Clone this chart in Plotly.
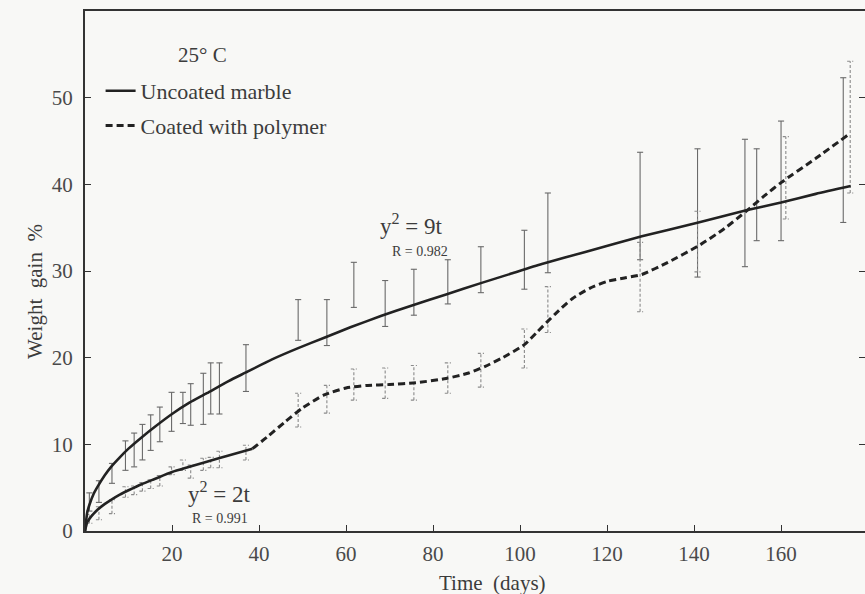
import plotly.graph_objects as go

# ---- fitted curves --------------------------------------------------------
# uncoated marble, fit y^2 = 9t
unc_t = [0, 0.5, 1, 2, 3, 4.5, 6, 8, 10, 13, 16, 20, 24, 28, 33, 37, 43, 49, 55, 61, 68, 75,
         83, 91, 98, 105, 115, 128, 141, 152, 160, 168, 176]
unc_w = [0, 2.1, 3.0, 4.3, 5.2, 6.4, 7.4, 8.5, 9.5, 10.8, 12.0, 13.5, 14.8, 15.9, 17.3, 18.3, 19.8,
         21.1, 22.3, 23.5, 24.8, 26.0, 27.3, 28.6, 29.7, 30.8, 32.2, 34.0, 35.6, 37.0, 37.9, 38.9, 39.8]

# coated marble, early fit y^2 = 2t
fit2_t = [0, 0.5, 1, 2, 3, 4.5, 6, 8, 10, 13, 16, 20, 24, 28, 33, 38.5]
fit2_w = [0, 1.0, 1.4, 2.0, 2.5, 3.1, 3.6, 4.2, 4.7, 5.4, 6.0, 6.8, 7.4, 8.0, 8.7, 9.5]

# coated marble, later trend
coat_t = [38.5, 42, 46, 50, 55, 60, 65, 70, 76, 83, 88, 92, 96, 101, 104, 108, 112, 116, 120,
          124, 128, 134, 141, 147, 152, 156, 160, 168, 175.4]
coat_w = [9.5, 10.9, 12.6, 14.2, 15.7, 16.5, 16.8, 16.9, 17.1, 17.6, 18.2, 19.0, 20.0, 21.5, 23.0,
          25.0, 26.8, 28.0, 28.8, 29.2, 29.6, 31.0, 32.9, 34.9, 36.9, 38.6, 40.2, 43.0, 45.7]

# ---- measured ranges (error bars) -----------------------------------------
unc_err_t = [1.0, 3.2, 6.2, 9.3, 11.3, 13.2, 15.1, 17.2, 19.9, 22.5, 24.3, 27.2, 28.9, 30.9, 37.0,
             49.0, 55.6, 61.8, 69.0, 75.6, 83.4, 91.0, 101.0, 106.4, 127.6, 140.8, 151.7, 154.4,
             160.0, 174.3]
unc_err_lo = [2.3, 3.3, 5.5, 7.0, 7.4, 8.2, 9.3, 10.3, 11.5, 12.4, 12.2, 12.3, 13.5, 13.5, 16.1,
              22.0, 21.4, 25.8, 23.6, 24.9, 26.2, 27.5, 27.9, 29.8, 31.3, 29.3, 30.5, 33.5,
              33.5, 35.6]
unc_err_hi = [4.4, 5.8, 7.8, 10.4, 11.3, 12.3, 13.4, 14.3, 16.0, 16.0, 17.0, 18.2, 19.4, 19.4, 21.5,
              26.7, 26.7, 31.0, 28.9, 30.2, 31.3, 32.8, 34.7, 39.0, 43.7, 44.1, 45.2, 44.1,
              47.3, 52.3]

coat_err_t = [1.0, 3.2, 6.2, 9.3, 11.3, 13.2, 15.1, 17.2, 19.9, 22.5, 24.3, 27.2, 28.9, 30.9, 37.0,
              49.0, 55.6, 61.8, 69.0, 75.6, 83.4, 91.0, 101.0, 106.4, 127.6, 140.8, 161.1, 175.9]
coat_err_lo = [0.9, 1.3, 2.0, 3.9, 4.2, 4.6, 4.9, 5.2, 6.5, 7.0, 6.1, 7.0, 7.3, 7.3, 8.2,
               12.0, 13.6, 15.1, 15.3, 15.1, 15.9, 16.6, 18.8, 22.9, 25.3, 29.9, 36.0, 39.0]
coat_err_hi = [1.9, 2.8, 3.6, 5.1, 5.2, 5.6, 5.9, 6.4, 7.4, 8.2, 7.6, 8.4, 8.5, 9.2, 9.9,
               15.9, 16.8, 18.7, 18.8, 19.1, 19.4, 20.5, 23.3, 28.2, 33.3, 36.9, 45.5, 54.2]

x_ticks = [20, 40, 60, 80, 100, 120, 140, 160]
y_ticks = [0, 10, 20, 30, 40, 50]

SERIF = "Liberation Serif, Times New Roman, serif"
TXT = "#3c3c3c"
CAP = 0.7  # half-width of the error-bar caps, in days
SP = "\u00a0"


def bar_segments(ts, los, his):
    """Vertical ranges with small caps, as one broken polyline."""
    xs, ys = [], []
    for t, lo, hi in zip(ts, los, his):
        xs += [t, t, None, t - CAP, t + CAP, None, t - CAP, t + CAP, None]
        ys += [lo, hi, None, lo, lo, None, hi, hi, None]
    return xs, ys


fig = go.Figure()

ux, uy = bar_segments(unc_err_t, unc_err_lo, unc_err_hi)
fig.add_trace(go.Scatter(x=ux, y=uy, mode="lines", hoverinfo="skip", showlegend=False,
                         line=dict(color="#6a6a6a", width=1.1)))

cx, cy = bar_segments(coat_err_t, coat_err_lo, coat_err_hi)
fig.add_trace(go.Scatter(x=cx, y=cy, mode="lines", hoverinfo="skip", showlegend=False,
                         line=dict(color="#8a8a8a", width=1.1, dash="3px,2px")))

curve = dict(shape="spline", smoothing=0.6)
fig.add_trace(go.Scatter(x=unc_t, y=unc_w, mode="lines", name="Uncoated marble",
                         legendgroup="a", line=dict(color="#222222", width=2.6, **curve)))
fig.add_trace(go.Scatter(x=fit2_t, y=fit2_w, mode="lines", showlegend=False,
                         line=dict(color="#222222", width=2.6, **curve)))
fig.add_trace(go.Scatter(x=coat_t, y=coat_w, mode="lines", name="Coated with polymer",
                         legendgroup="b",
                         line=dict(color="#222222", width=3, dash="7px,4px", **curve)))

annotations = [
    dict(x=27, y=54.9, text="25°" + SP + "C", font=dict(size=21)),
    dict(x=75, y=35.4, text="y<sup>2</sup>" + SP + "=" + SP + "9t", font=dict(size=23)),
    dict(x=77, y=32.2, text="R" + SP + "=" + SP + "0.982", font=dict(size=14)),
    dict(x=31, y=4.4, text="y<sup>2</sup>" + SP + "=" + SP + "2t", font=dict(size=23)),
    dict(x=31, y=1.4, text="R" + SP + "=" + SP + "0.991", font=dict(size=14)),
]
for a in annotations:
    a.update(xref="x", yref="y", showarrow=False)
    a["font"].update(family=SERIF, color=TXT)

annotations.append(dict(xref="paper", yref="paper", x=0.522, y=-0.1, yanchor="middle",
                        showarrow=False, text="Time" + SP * 2 + "(days)",
                        font=dict(family=SERIF, size=21, color=TXT)))
annotations.append(dict(xref="paper", yref="paper", x=-0.064, y=0.46, textangle=-90,
                        xanchor="center", yanchor="middle", showarrow=False,
                        text="Weight" + SP * 2 + "gain" + SP * 2 + "%",
                        font=dict(family=SERIF, size=21, color=TXT)))

axis_common = dict(showgrid=False, zeroline=False, ticks="inside", ticklen=6,
                   tickwidth=1.2, tickcolor="#333", showline=True, linecolor="#333",
                   linewidth=2, tickfont=dict(family=SERIF, size=21, color="#4a4a4a"))

fig.update_layout(
    width=865, height=594,
    margin=dict(l=85, r=0, t=11, b=63),
    paper_bgcolor="#f8f8f6", plot_bgcolor="#f8f8f6",
    showlegend=True,
    legend=dict(x=0.02, y=0.8865, xanchor="left", yanchor="top",
                bgcolor="rgba(0,0,0,0)", traceorder="grouped", tracegroupgap=3,
                font=dict(family=SERIF, size=22, color=TXT)),
    xaxis=dict(range=[0, 179.3], tickvals=x_ticks, mirror=True, ticklabelstandoff=3,
               **axis_common),
    yaxis=dict(range=[0, 60], tickvals=y_ticks, mirror=False, ticklabelstandoff=6,
               **axis_common),
    yaxis2=dict(range=[0, 60], tickvals=y_ticks, overlaying="y", side="right",
                showticklabels=False, showgrid=False, zeroline=False, showline=False,
                ticks="inside", ticklen=6, tickwidth=1.2, tickcolor="#333"),
    annotations=annotations,
)

# invisible carrier so the right-hand tick marks get drawn
fig.add_trace(go.Scatter(x=[None], y=[None], yaxis="y2", showlegend=False, hoverinfo="skip"))

fig.write_html("out.html")
